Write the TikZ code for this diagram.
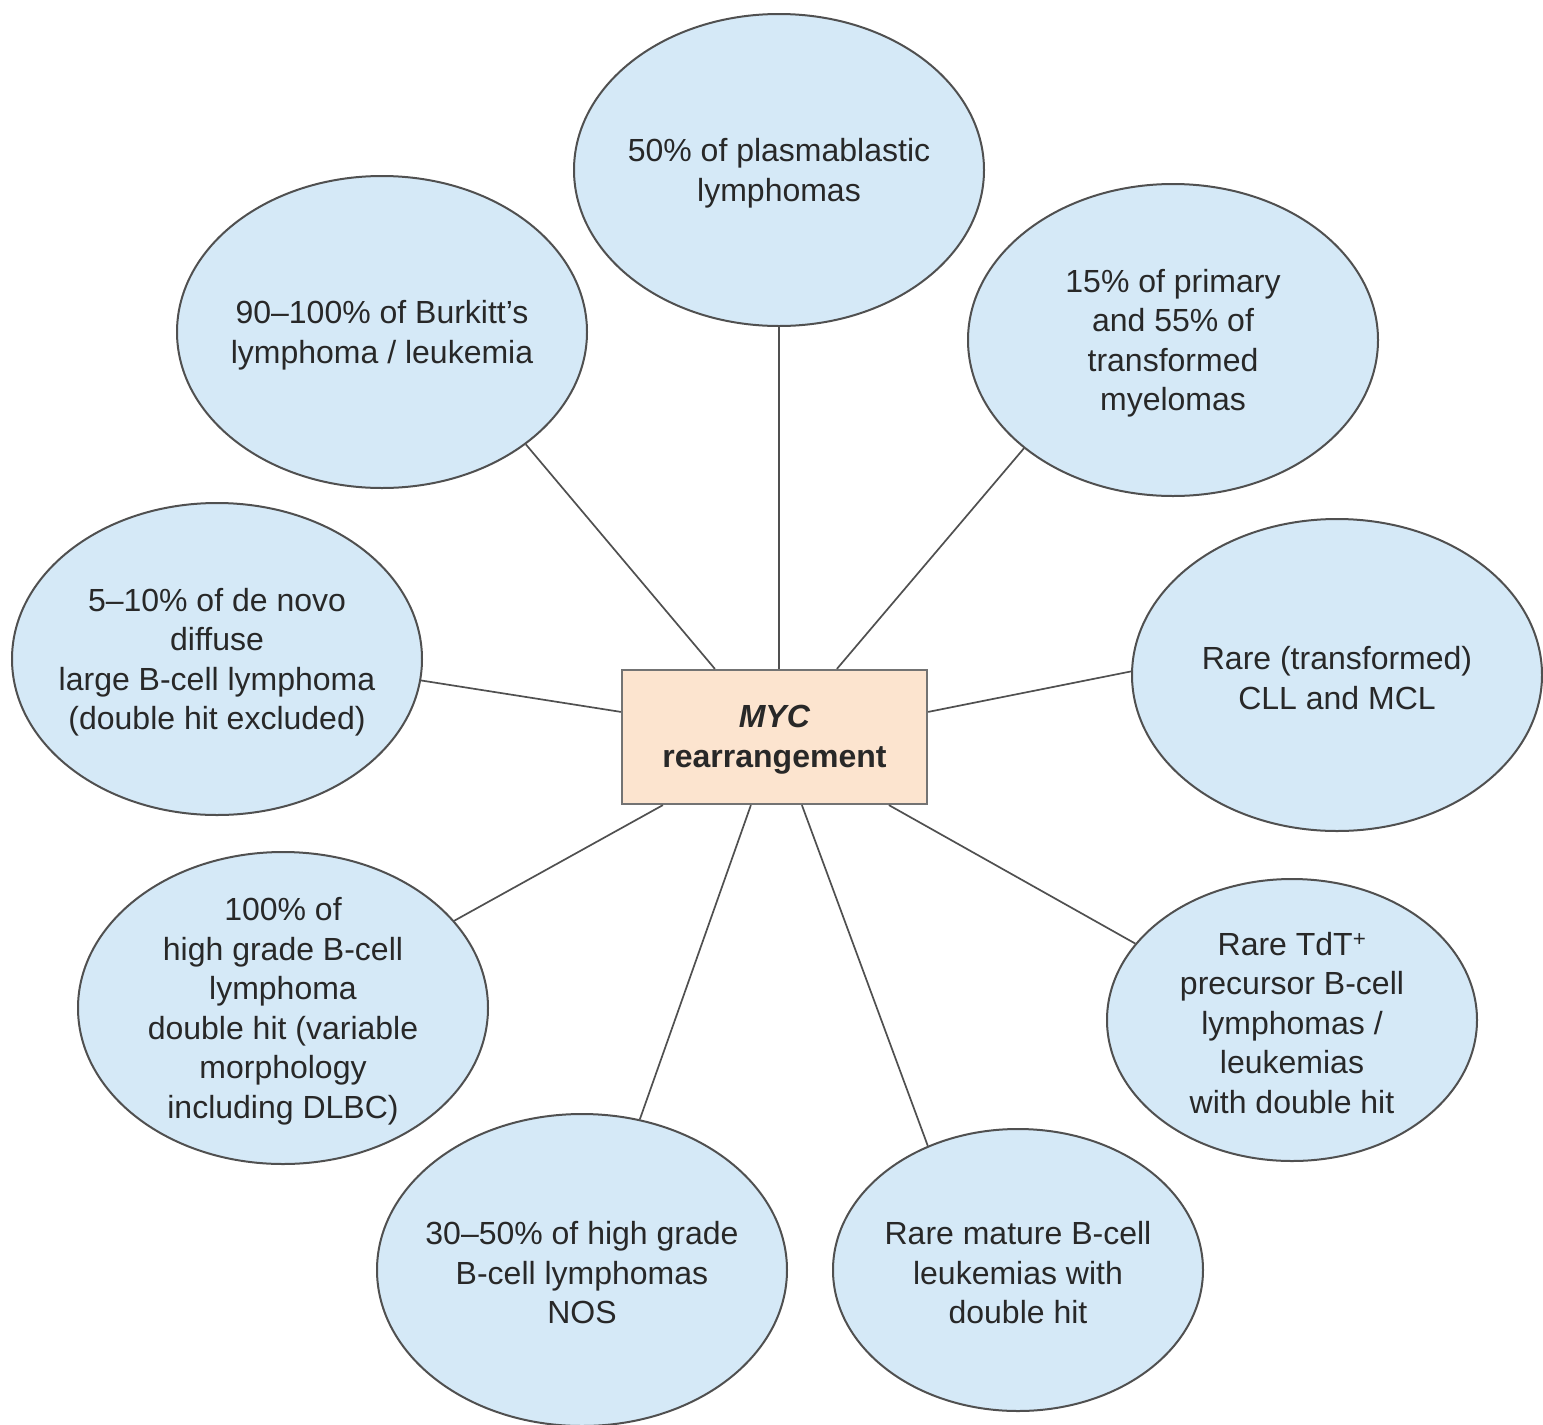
\documentclass[tikz,border=0pt]{standalone}
\usepackage{fontspec}
\setmainfont{Liberation Sans}
\usetikzlibrary{shapes.geometric,calc}
\definecolor{ellfill}{RGB}{213,233,247}
\definecolor{boxfill}{RGB}{252,228,207}
\definecolor{linegray}{RGB}{80,80,80}
\definecolor{txtgray}{RGB}{40,40,40}
\tikzset{
  ell/.style={ellipse, draw=linegray, line width=2pt, fill=ellfill, inner sep=0pt,
    minimum width=410pt, minimum height=312pt},
  smallell/.style={ell, minimum width=370pt, minimum height=282pt},
  txt/.style={align=center, text=txtgray, inner sep=0pt, yshift=-3pt,
    font=\fontsize{32}{39.5}\selectfont},
  mycbox/.style={rectangle, draw=linegray!80, line width=2.2pt, fill=boxfill,
    minimum width=305pt, minimum height=134pt, inner sep=0pt},
  conn/.style={draw=linegray, line width=1.7pt}
}
\begin{document}
\begin{tikzpicture}[x=1pt,y=-1pt]
\useasboundingbox[fill=white] (0,0) rectangle (1543,1425);

\node[mycbox] (myc) at (774.5,737) {};
\node[txt, font=\fontsize{32}{40}\selectfont\bfseries] (myct) at (myc.center) {\textit{MYC}\\rearrangement};

\node[ell] (pla) at (779,170) {};
\node[txt] (plat) at (pla.center) {50\% of plasmablastic\\lymphomas};

\node[ell] (bur) at (382,332) {};
\node[txt] (burt) at (bur.center) {90–100\% of Burkitt’s\\lymphoma / leukemia};

\node[ell] (mye) at (1173,340) {};
\node[txt] (myet) at (mye.center) {15\% of primary\\and 55\% of\\transformed\\myelomas};

\node[ell] (dlb) at (217,659) {};
\node[txt] (dlbt) at (dlb.center) {5–10\% of de novo\\diffuse\\large B-cell lymphoma\\(double hit excluded)};

\node[ell] (cll) at (1337,675) {};
\node[txt] (cllt) at (cll.center) {Rare (transformed)\\CLL and MCL};

\node[ell] (hgb) at (283,1008) {};
\node[txt] (hgbt) at (hgb.center) {100\% of\\high grade B-cell\\lymphoma\\double hit (variable\\morphology\\including DLBC)};

\node[smallell] (tdt) at (1292,1020) {};
\node[txt] (tdtt) at (tdt.center) {Rare TdT\textsuperscript{+}\\precursor B-cell\\lymphomas /\\leukemias\\with double hit};

\node[ell] (nos) at (582,1270) {};
\node[txt] (nost) at (nos.center) {30–50\% of high grade\\B-cell lymphomas\\NOS};

\node[smallell] (mat) at (1018,1270) {};
\node[txt] (matt) at (mat.center) {Rare mature B-cell\\leukemias with\\double hit};

% connectors
\draw[conn] (pla.south) -- (pla.south |- myc.north);
\draw[conn] ($(myc.north west)+(94,0)$) -- (bur.-38);
\draw[conn] ($(myc.north west)+(216,0)$) -- (mye.-144);
\draw[conn] ($(myc.north west)+(0,43)$) -- (dlb.-6);
\draw[conn] ($(myc.north east)+(0,43)$) -- (cll.179);
\draw[conn] ($(myc.south west)+(42,0)$) -- (hgb.27);
\draw[conn] ($(myc.south west)+(130,0)$) -- (nos.69);
\draw[conn] ($(myc.south west)+(181,0)$) -- (mat.126);
\draw[conn] ($(myc.south west)+(268,0)$) -- (tdt.154);
\end{tikzpicture}
\end{document}
